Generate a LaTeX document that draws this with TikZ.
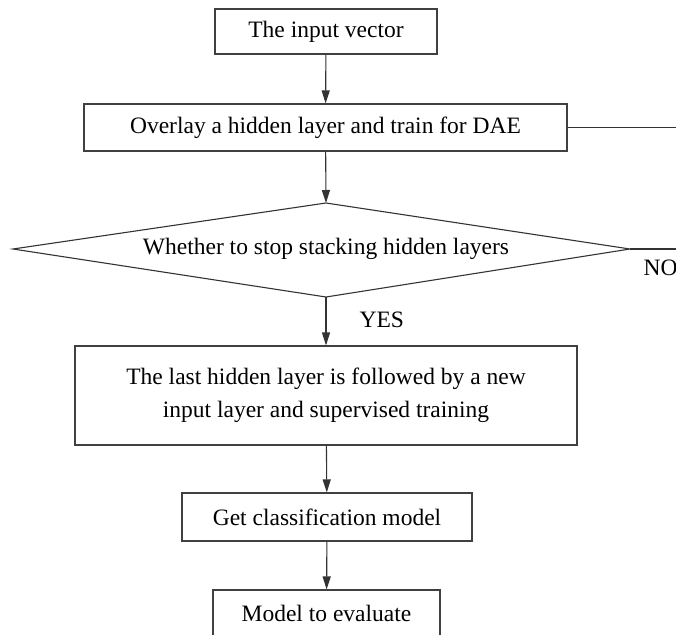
\documentclass[tikz,border=0pt]{standalone}
\usepackage{fontspec}
\setmainfont{Liberation Serif}
\usetikzlibrary{arrows.meta}
\tikzset{
  stepbox/.style={draw=black!75,line width=1.1pt,fill=white,inner sep=0pt,align=center,font=\fontsize{23.5}{33}\selectfont},
  flow/.style={draw=black!80,line width=1.1pt,-{Triangle[length=13pt,width=8pt]}},
  wire/.style={draw=black!80,line width=1.1pt},
  tag/.style={font=\fontsize{23.5}{28}\selectfont}
}
\begin{document}
\begin{tikzpicture}[x=1pt,y=-1pt]
\useasboundingbox (0,0) rectangle (676,634);
\clip (0,0) rectangle (676,634);
% Boxes
\node[stepbox,minimum width=222pt,minimum height=45pt] (input) at (326,31.5) {The input vector};
\node[stepbox,minimum width=483pt,minimum height=47pt] (dae) at (325.5,127.5) {Overlay a hidden layer and train for DAE};
% Decision
\coordinate (dtop) at (326,203);
\coordinate (dright) at (630,249);
\coordinate (dbot) at (326,297);
\coordinate (dleft) at (13,249);
\draw[wire,fill=white,line join=miter] (dtop) -- (dright) -- (dbot) -- (dleft) -- cycle;
\node[tag] (stop) at (326,249) {Whether to stop stacking hidden layers};
\node[stepbox,minimum width=502pt,minimum height=99pt] (super) at (326,395.5) {The last hidden layer is followed by a new\\input layer and supervised training};
\node[stepbox,minimum width=290pt,minimum height=48pt] (model) at (327,517) {Get classification model};
\node[stepbox,minimum width=227pt,minimum height=47pt] (eval) at (326.5,613.5) {Model to evaluate};
% Arrows
\draw[flow] (input) -- (dae);
\draw[flow] (dae) -- (dtop);
\draw[flow] (dbot) -- (super);
\draw[flow] (super) -- (model);
\draw[flow] (model) -- (eval);
% Loop back (runs off the right edge)
\coordinate (loop) at (700,249);
\draw[wire] (dright) -- (loop) |- (dae.east);
% Labels
\node[tag,anchor=west] (yes) at (356,320) {YES};
\node[tag,anchor=west] (no) at (640,268) {NO};
\end{tikzpicture}
\end{document}
